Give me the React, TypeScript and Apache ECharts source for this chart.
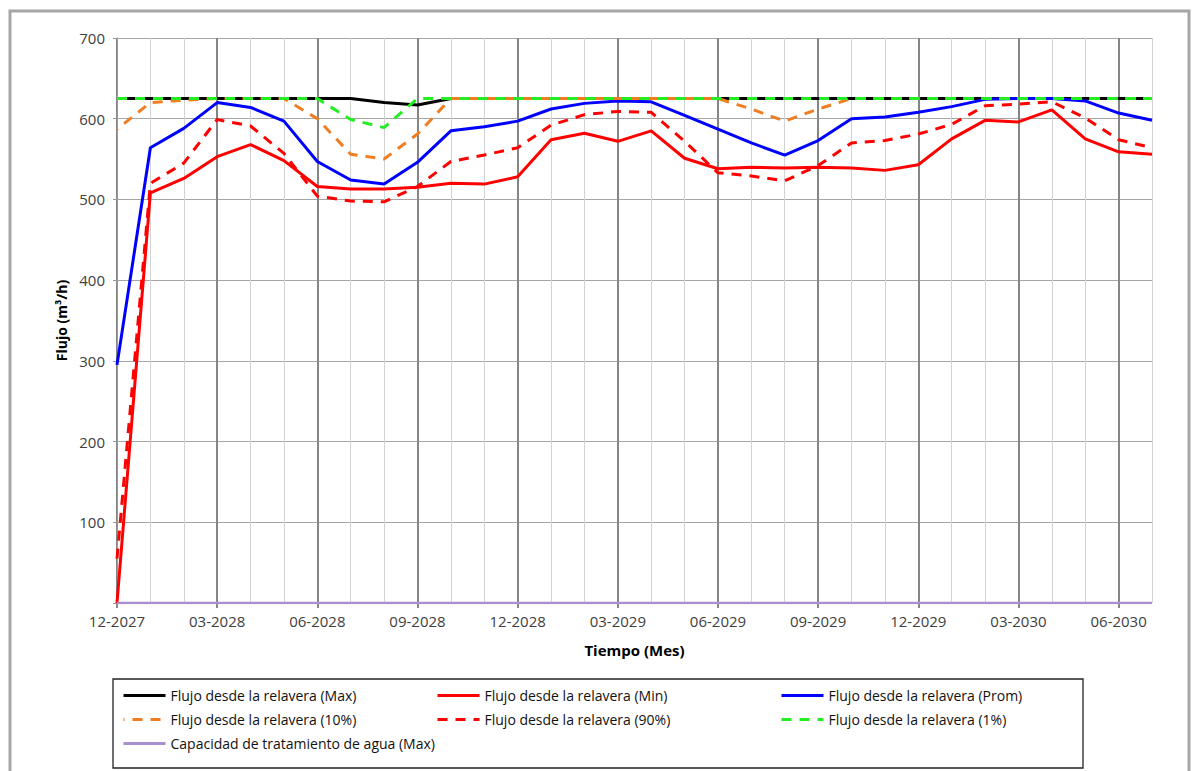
import React, { useEffect, useRef } from "react";
import * as echarts from "echarts";

const categories = [
  "12-2027", "01-2028", "02-2028", "03-2028", "04-2028", "05-2028", "06-2028", "07-2028",
  "08-2028", "09-2028", "10-2028", "11-2028", "12-2028", "01-2029", "02-2029", "03-2029",
  "04-2029", "05-2029", "06-2029", "07-2029", "08-2029", "09-2029", "10-2029", "11-2029",
  "12-2029", "01-2030", "02-2030", "03-2030", "04-2030", "05-2030", "06-2030", "07-2030",
];

const flujoMax = [
  625, 625, 625, 625, 625, 625, 625, 625, 620, 617, 625, 625, 625, 625, 625, 625,
  625, 625, 625, 625, 625, 625, 625, 625, 625, 625, 625, 625, 625, 625, 625, 625,
];
const flujoMin = [
  0, 508, 526, 553, 568, 548, 516, 513, 513, 515, 520, 519, 528, 574, 582, 572,
  585, 551, 538, 540, 539, 540, 539, 536, 543, 575, 598, 596, 611, 575, 559, 556,
];
const flujoProm = [
  295, 564, 588, 620, 614, 597, 547, 524, 519, 546, 585, 590, 597, 612, 619, 622,
  621, 604, 587, 570, 555, 573, 600, 602, 608, 615, 624, 625, 625, 622, 607, 598,
];
const flujo10 = [
  587, 620, 623, 625, 625, 625, 600, 556, 550, 581, 625, 625, 625, 625, 625, 625,
  625, 625, 625, 612, 597, 612, 625, 625, 625, 625, 625, 625, 625, 625, 625, 625,
];
const flujo90 = [
  55, 520, 545, 599, 591, 557, 504, 498, 497, 516, 547, 555, 564, 592, 605, 609,
  608, 572, 533, 529, 523, 542, 570, 573, 581, 593, 616, 618, 621, 601, 574, 564,
];
const flujo1 = [
  625, 625, 625, 625, 625, 625, 625, 599, 589, 625, 625, 625, 625, 625, 625, 625,
  625, 625, 625, 625, 625, 625, 625, 625, 625, 625, 625, 625, 625, 625, 625, 625,
];
const capacidad = [
  0, 0, 0, 0, 0, 0, 0, 0, 0, 0, 0, 0, 0, 0, 0, 0,
  0, 0, 0, 0, 0, 0, 0, 0, 0, 0, 0, 0, 0, 0, 0, 0,
];

const names = [
  "Flujo desde la relavera (Max)",
  "Flujo desde la relavera (Min)",
  "Flujo desde la relavera (Prom)",
  "Flujo desde la relavera (10%)",
  "Flujo desde la relavera (90%)",
  "Flujo desde la relavera (1%)",
  "Capacidad de tratamiento de agua (Max)",
];

const FONT = "Open Sans";

export default function App() {
  const ref = useRef<HTMLDivElement>(null);
  useEffect(() => {
    if (!ref.current) return;
    const chart = echarts.init(ref.current, null, { renderer: "svg" });
    const dash = [10, 8];
    const mk = (name: string, data: number[], color: string, type: any, width = 3, z = 2, offset = 0) => ({
      name,
      type: "line",
      data,
      symbol: "none",
      z,
      lineStyle: { color, width, type, dashOffset: offset },
      itemStyle: { color },
    });
    const legendBase = {
      orient: "vertical",
      itemWidth: 42,
      itemHeight: 14,
      itemGap: 7,
      itemStyle: { opacity: 0 },
      lineStyle: { width: 3 },
      textStyle: { fontFamily: FONT, fontSize: 14, color: "#111", lineHeight: 17 },
      top: 682,
    };
    chart.setOption({
      animation: false,
      backgroundColor: "#ffffff",
      grid: { left: 117, right: 46, top: 38, bottom: 168, containLabel: false },
      xAxis: [
        {
          type: "category",
          data: categories,
          boundaryGap: false,
          name: "Tiempo (Mes)",
          nameLocation: "middle",
          nameGap: 39,
          nameTextStyle: { fontFamily: FONT, fontSize: 15, fontWeight: "bold", color: "#000" },
          axisLine: { show: false },
          axisTick: { show: true, interval: 2, length: 5, lineStyle: { color: "#888", width: 2 } },
          axisLabel: { interval: 2, fontFamily: FONT, fontSize: 15, color: "#404040", margin: 10 },
          splitLine: { show: true, interval: 0, lineStyle: { color: "#d3d3d3", width: 1 } },
        },
        {
          type: "category",
          data: categories,
          boundaryGap: false,
          position: "bottom",
          axisLine: { show: false },
          axisTick: { show: false },
          axisLabel: { show: false },
          splitLine: { show: true, interval: 2, lineStyle: { color: "#858585", width: 2 } },
        },
      ],
      yAxis: {
        type: "value",
        min: 0,
        max: 700,
        interval: 100,
        name: "Flujo (m³/h)",
        nameLocation: "middle",
        nameGap: 48,
        nameTextStyle: { fontFamily: FONT, fontSize: 14, fontWeight: "bold", color: "#000" },
        axisLine: { show: true, lineStyle: { color: "#9a9a9a", width: 1 } },
        axisTick: { show: true, length: 4, lineStyle: { color: "#9a9a9a" } },
        axisLabel: {
          fontFamily: FONT,
          fontSize: 15,
          color: "#404040",
          margin: 12,
          formatter: (v: number) => (v === 0 ? "" : String(v)),
        },
        splitLine: { show: true, lineStyle: { color: "#a6a6a6", width: 1 } },
      },
      legend: [
        { ...legendBase, left: 117, data: [names[0], names[3], names[6]] },
        { ...legendBase, left: 431, data: [names[1], names[4]] },
        { ...legendBase, left: 775, data: [names[2], names[5]] },
      ],
      graphic: [
        {
          type: "rect",
          shape: { x: 10, y: 11, width: 1179, height: 800 },
          style: { fill: "none", stroke: "#a6a6a6", lineWidth: 3 },
          silent: true,
        },
        {
          type: "rect",
          shape: { x: 113, y: 679, width: 970, height: 89 },
          style: { fill: "none", stroke: "#222", lineWidth: 1.3 },
          silent: true,
        },
      ],
      series: [
        mk(names[0], flujoMax, "#000000", "solid", 3, 2),
        mk(names[1], flujoMin, "#ff0000", "solid", 3, 3),
        mk(names[2], flujoProm, "#0000ff", "solid", 3, 4),
        mk(names[3], flujo10, "#f07d22", dash, 3, 5, 9),
        mk(names[4], flujo90, "#ff0000", dash, 3, 6),
        mk(names[5], flujo1, "#22ee22", dash, 3, 7, 0),
        mk(names[6], capacidad, "#a98fd2", "solid", 2.5, 8),
      ],
    });
    return () => chart.dispose();
  }, []);
  return (
    <div
      ref={ref}
      style={{ position: "fixed", left: 0, top: 0, width: 1198, height: 771 }}
    />
  );
}
